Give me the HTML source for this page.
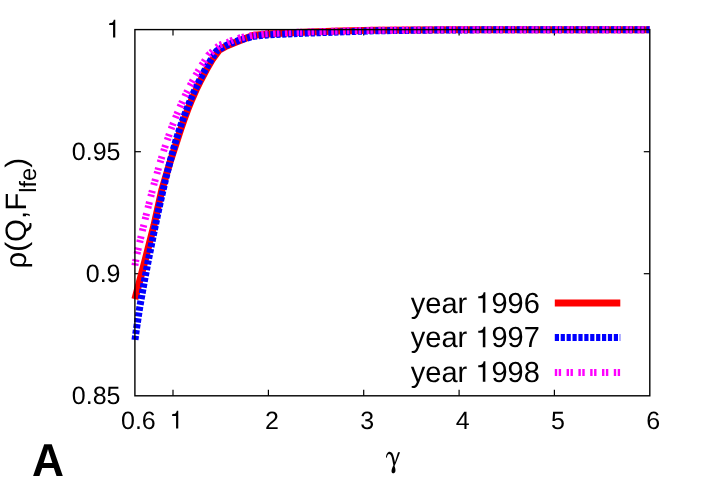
<!DOCTYPE html>
<html><head><meta charset="utf-8"><style>
html,body{margin:0;padding:0;background:#fff;}
svg{display:block;font-family:"Liberation Sans",sans-serif;text-rendering:geometricPrecision;}
</style></head><body><div style="will-change:transform;width:706px;height:494px;overflow:hidden">
<svg width="706" height="494" viewBox="0 0 706 494">
<rect width="706" height="494" fill="#fff"/>
<g stroke="#000" stroke-width="1.2" fill="none">
<line x1="173.0" y1="395.8" x2="173.0" y2="389.8"/><line x1="173.0" y1="29.6" x2="173.0" y2="35.6"/><line x1="268.4" y1="395.8" x2="268.4" y2="389.8"/><line x1="268.4" y1="29.6" x2="268.4" y2="35.6"/><line x1="363.7" y1="395.8" x2="363.7" y2="389.8"/><line x1="363.7" y1="29.6" x2="363.7" y2="35.6"/><line x1="459.1" y1="395.8" x2="459.1" y2="389.8"/><line x1="459.1" y1="29.6" x2="459.1" y2="35.6"/><line x1="554.4" y1="395.8" x2="554.4" y2="389.8"/><line x1="554.4" y1="29.6" x2="554.4" y2="35.6"/><line x1="134.9" y1="273.7" x2="140.9" y2="273.7"/><line x1="649.8" y1="273.7" x2="643.8" y2="273.7"/><line x1="134.9" y1="151.7" x2="140.9" y2="151.7"/><line x1="649.8" y1="151.7" x2="643.8" y2="151.7"/>
</g>
<g fill="none" stroke-linejoin="round">
<polyline points="134.9,299.2 144.4,263.0 154.0,225.2 161.8,190.0 170.1,162.0 177.3,140.0 180.5,130.0 183.9,120.0 187.6,110.0 191.6,100.0 196.0,90.0 200.9,80.0 206.2,70.0 212.0,60.0 219.5,49.8 225.4,46.6 236.3,42.0 252.8,35.4 267.7,34.0 282.5,33.2 297.4,32.5 340.0,31.0 374.0,30.3 450.0,29.7 649.8,29.7" stroke="#ff0000" stroke-width="7"/>
<g stroke="#0000ff" stroke-width="7" stroke-dasharray="4.2 1.69">
<polyline points="135.0,339.9 136.3,330.0 137.8,320.0 139.3,310.0 141.0,300.0 142.8,290.0 144.6,280.0 146.5,270.0 148.4,260.0 150.4,250.0 152.4,240.0 154.4,230.0 156.5,220.0 158.6,210.0 160.8,200.0 163.1,190.0 165.4,180.0 167.9,170.0 170.5,160.0 173.2,150.0 176.1,140.0 179.3,130.0 182.7,120.0 186.4,110.0 190.4,100.0 194.8,90.0 199.7,80.0 205.0,70.0 210.8,60.0 214.0,55.0 216.6,51.0 225.7,45.6 232.1,42.9 237.9,40.7 252.8,36.4 267.7,34.9 282.5,34.2 297.4,33.5"/>
<polyline points="297.4,33.5 340.0,32.0 374.0,30.8 450.0,29.9 649.8,29.7" stroke-dashoffset="4.44"/>
</g>
<g stroke="#ff00ff" stroke-width="7" stroke-dasharray="2.4 1.5 2.4 5.48">
<polyline points="134.9,265.5 136.8,255.0 139.1,245.0 141.4,235.0 143.8,225.0 146.2,215.0 148.7,205.0 151.2,195.0 153.8,185.0 156.6,175.0 159.4,165.0 162.4,155.0 165.6,145.0 169.0,135.0 172.6,125.0 176.6,115.0 180.8,105.0 185.4,95.0 190.4,85.0 195.9,75.0 201.9,65.0 208.5,55.0 211.2,52.6 214.9,49.1 219.7,45.0 227.2,42.6 231.0,40.9 239.9,37.9 252.1,35.4 264.1,33.9 276.0,33.2 287.8,32.6 300.0,32.2"/>
<polyline points="300.0,32.2 340.0,31.0 374.0,30.3 450.0,29.7 649.8,29.7" stroke-dashoffset="4.11"/>
</g>
</g>
<rect x="134.9" y="29.6" width="514.9" height="366.2" fill="none" stroke="#000" stroke-width="1.4"/>
<g font-size="25px" fill="#000">
<text x="138.4" y="428.5" text-anchor="middle">0.6</text><path transform="translate(169.59,428.50) scale(0.02500,-0.02500)" d="M259 0V505H102V568C239 585 258 600 289 709H347V0Z" fill="#000"/><text x="271.9" y="428.5" text-anchor="middle">2</text><text x="367.2" y="428.5" text-anchor="middle">3</text><text x="462.6" y="428.5" text-anchor="middle">4</text><text x="557.9" y="428.5" text-anchor="middle">5</text><text x="653.3" y="428.5" text-anchor="middle">6</text>
<text x="120.5" y="404.3" text-anchor="end">0.85</text><text x="120.5" y="282.1" text-anchor="end">0.9</text><text x="120.5" y="160.0" text-anchor="end">0.95</text><path transform="translate(106.60,37.60) scale(0.02500,-0.02500)" d="M259 0V505H102V568C239 585 258 600 289 709H347V0Z" fill="#000"/>
</g>
<g font-size="29px" fill="#000">
<text x="539.8" y="312.8" text-anchor="end">996</text><path transform="translate(475.30,312.80) scale(0.02900,-0.02900)" d="M259 0V505H102V568C239 585 258 600 289 709H347V0Z" fill="#000"/><text x="475.30" y="312.8" text-anchor="end" xml:space="preserve">year </text>
<text x="539.8" y="347.3" text-anchor="end">997</text><path transform="translate(475.30,347.30) scale(0.02900,-0.02900)" d="M259 0V505H102V568C239 585 258 600 289 709H347V0Z" fill="#000"/><text x="475.30" y="347.3" text-anchor="end" xml:space="preserve">year </text>
<text x="539.8" y="381.8" text-anchor="end">998</text><path transform="translate(475.30,381.80) scale(0.02900,-0.02900)" d="M259 0V505H102V568C239 585 258 600 289 709H347V0Z" fill="#000"/><text x="475.30" y="381.8" text-anchor="end" xml:space="preserve">year </text>
</g>
<line x1="554.8" y1="303" x2="620.3" y2="303" stroke="#ff0000" stroke-width="7"/>
<line x1="554.8" y1="337.6" x2="620.3" y2="337.6" stroke="#0000ff" stroke-width="7" stroke-dasharray="4.2 1.7"/>
<line x1="554.8" y1="372.4" x2="620.3" y2="372.4" stroke="#ff00ff" stroke-width="7" stroke-dasharray="2.4 1.5 2.4 5.5"/>
<text transform="translate(26.2,268.5) rotate(-90)" font-size="29.5px" fill="#000">ρ(Q,F<tspan font-size="23.6px" dy="9.7">lfe</tspan><tspan dy="-9.7">)</tspan></text>
<path transform="translate(378,444) scale(0.07283)" fill="#000" d="M110 186C112 142 131 108 160 108C190 108 208 140 219 190L233 250L275 114L303 114L243 268L227 302C237 330 243 352 239 375C234 398 216 405 205 402C190 398 182 380 187 356C191 332 204 312 211 292L197 218C188 170 176 142 154 137C137 135 127 156 121 188Z"/>
<text transform="translate(32.05,476.1) scale(0.963,1)" font-size="46px" font-weight="bold" fill="#000">A</text>
</svg></div>
</body></html>
